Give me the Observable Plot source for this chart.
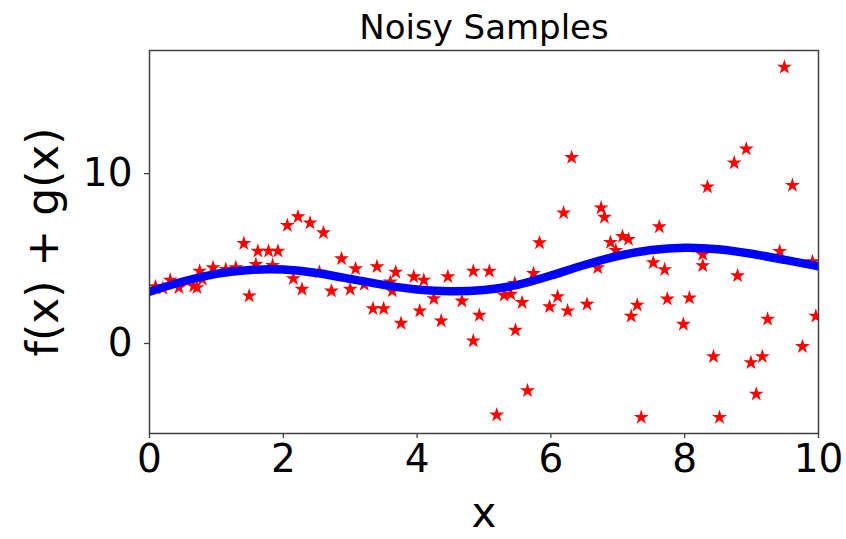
<!DOCTYPE html>
<html>
<head>
<meta charset="utf-8">
<script src="https://cdn.jsdelivr.net/npm/d3@7"></script>
<script src="https://cdn.jsdelivr.net/npm/@observablehq/plot@0.6"></script>
<style>
  html, body { margin: 0; padding: 0; background: #ffffff; }
  #chart { width: 846px; height: 539px; }
</style>
</head>
<body>
<div id="chart"></div>
<script>
const titleText = "Noisy Samples";
const xLabel = "x";
const yLabel = "f(x) + g(x)";
const xTicks = [0, 2, 4, 6, 8, 10];
const yTicks = [0, 10];

// Noisy samples (red stars)
const sampleX = [0.09, 0.2, 0.31, 0.44, 0.66, 0.71, 0.79, 0.75, 0.95, 1.14, 1.29, 1.41, 1.49, 1.59, 1.62, 1.78, 1.92, 1.84,
  2.06, 2.22, 2.4, 2.6, 2.15, 2.28, 2.54, 2.72, 2.87, 3.0, 3.08, 3.21, 3.34, 3.5, 3.4, 3.6, 3.63, 3.68, 3.76, 3.95,
  4.04, 4.1, 4.25, 4.36, 4.46, 4.67, 4.84, 4.84, 4.93, 5.08, 5.19, 5.3, 5.4, 5.46, 5.47, 5.57, 5.65, 5.74, 5.83, 5.98,
  6.1, 6.19, 6.25, 6.31, 6.54, 6.7, 6.75, 6.8, 6.89, 6.97, 7.07, 7.16, 7.2, 7.29, 7.35, 7.53, 7.62, 7.7, 7.74, 7.98,
  8.07, 8.27, 8.27, 8.34, 8.43, 8.52, 8.74, 8.79, 8.92, 8.99, 9.07, 9.16, 9.24, 9.42, 9.49, 9.61, 9.76, 9.91, 9.96];
const sampleY = [3.35, 3.25, 3.73, 3.29, 3.38, 3.29, 3.78, 4.26, 4.46, 4.36, 4.46, 5.89, 2.8, 4.66, 5.44, 5.44, 5.44, 4.6,
  6.95, 7.46, 7.1, 6.52, 3.82, 3.19, 4.2, 3.09, 4.99, 3.19, 4.4, 3.48, 2.05, 2.05, 4.52, 3.62, 3.09, 4.2, 1.19, 3.93,
  1.92, 3.73, 2.64, 1.33, 3.93, 2.5, 4.26, 0.15, 1.66, 4.26, -4.21, 2.84, 2.9, 3.54, 0.78, 2.41, -2.78, 4.13, 5.93, 2.17,
  2.76, 7.69, 1.92, 10.95, 2.31, 4.46, 7.98, 7.43, 5.95, 5.48, 6.3, 6.13, 1.61, 2.26, -4.35, 4.76, 6.87, 4.35, 2.62, 1.13,
  2.68, 5.24, 4.58, 9.22, -0.77, -4.35, 10.63, 3.99, 11.45, -1.13, -2.98, -0.77, 1.43, 5.42, 16.27, 9.31, -0.18, 4.82, 1.61];

// Underlying smooth function (blue line)
const curveX = [0, 0.5, 1, 1.5, 2, 2.5, 3, 3.5, 4, 4.5, 5, 5.5, 6, 6.5, 7, 7.5, 8, 8.5, 9, 9.5, 10];
const curveY = [3.05, 3.65, 4.1, 4.33, 4.35, 4.15, 3.8, 3.45, 3.18, 3.07, 3.15, 3.45, 4.0, 4.62, 5.15, 5.5, 5.64, 5.55, 5.28, 4.92, 4.55];

const samples = sampleX.map((x, i) => ({x, y: sampleY[i]}));
const curve = curveX.map((x, i) => ({x, y: curveY[i]}));

const chart = Plot.plot({
  width: 846,
  height: 539,
  marginLeft: 149,
  marginRight: 28,
  marginTop: 50,
  marginBottom: 106,
  style: {fontFamily: "'DejaVu Sans', sans-serif", background: "#ffffff", color: "#000000"},
  x: {domain: [0, 10]},
  y: {domain: [-5.3, 17.25]},
  marks: [
    Plot.dot(samples, {x: "x", y: "y", symbol: "star", fill: "#ff0000", stroke: "none", r: 4.7, clip: true}),
    Plot.line(curve, {x: "x", y: "y", stroke: "#0000ff", strokeWidth: 8.5, curve: "natural", clip: true}),
    Plot.frame({stroke: "#404040", strokeWidth: 1.5}),
    Plot.axisX({ticks: xTicks, tickSize: 5, tickPadding: 6, fontSize: 39, label: null, stroke: "#404040", strokeWidth: 1.3}),
    Plot.axisY({ticks: yTicks, tickSize: 5, tickPadding: 12, fontSize: 39, label: null, stroke: "#404040", strokeWidth: 1.3}),
    Plot.text([titleText], {frameAnchor: "top", dy: -22, fontSize: 34, lineAnchor: "middle", fill: "#000000"}),
    Plot.text([xLabel], {frameAnchor: "bottom", dy: 80, fontSize: 42, lineAnchor: "middle", fill: "#000000"}),
    Plot.text([yLabel], {frameAnchor: "left", dx: -106, rotate: -90, textAnchor: "middle", fontSize: 44, lineAnchor: "middle", fill: "#000000"})
  ]
});
document.getElementById("chart").appendChild(chart);
</script>
</body>
</html>
